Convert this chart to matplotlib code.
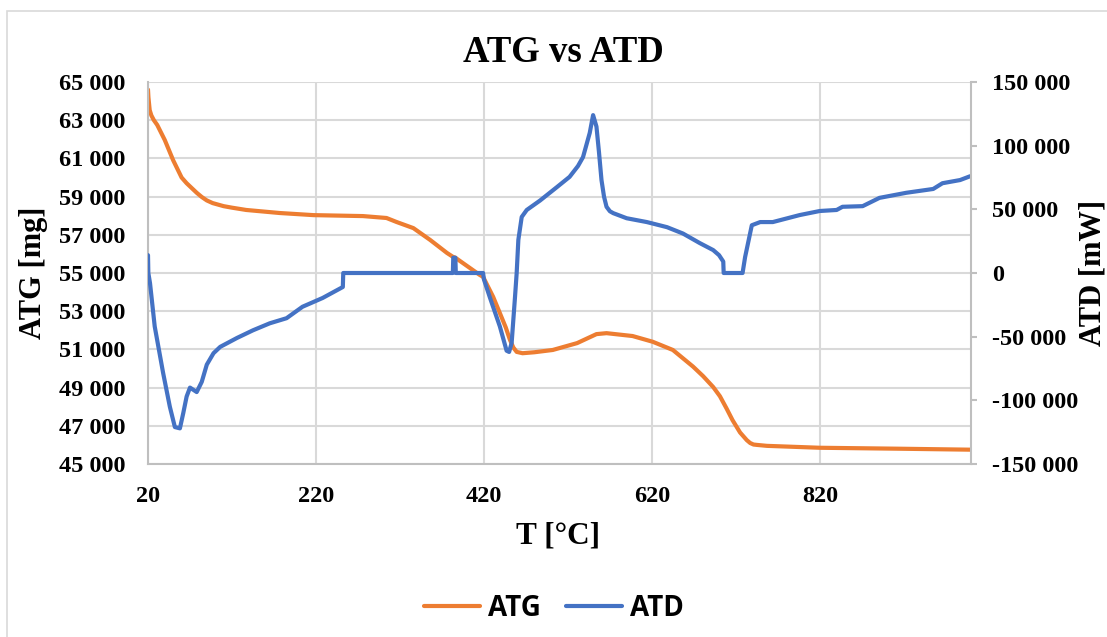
import matplotlib
matplotlib.use("Agg")
import matplotlib.pyplot as plt
from matplotlib.ticker import FuncFormatter, FixedLocator
from matplotlib.patches import Rectangle

# ---------------- data ----------------
atg_t = [20, 20.5, 22, 24, 27, 31, 40, 50, 60, 66, 72, 78, 84, 90, 97, 110, 120,
         137, 177, 217, 276, 304, 316, 336, 356, 376, 383, 386, 395, 415, 419,
         431, 439, 446, 451, 455, 459, 466, 480, 502, 531, 554, 566, 597, 621,
         645, 669, 681, 693, 701, 709, 716, 725, 733, 737, 741, 745, 757, 820,
         915, 999]
atg_v = [64600, 64200, 63530, 63250, 63000, 62750, 61960, 60900, 60000, 59700,
         59450, 59200, 58980, 58800, 58660, 58500, 58420, 58300, 58140, 58030,
         57980, 57880, 57670, 57350, 56730, 56050, 55850, 55800, 55520, 54900,
         54800, 53750, 52900, 52150, 51500, 51100, 50870, 50800, 50850, 50970,
         51330, 51800, 51850, 51700, 51400, 50970, 50100, 49600, 49030, 48550,
         47900, 47300, 46650, 46250, 46100, 46020, 46000, 45950, 45850, 45800,
         45750]

atd_t = [20, 20.4, 22.4, 28, 38, 46, 52, 58, 62, 66, 70, 78, 84, 90, 98, 106, 126,
         145, 165, 185, 204, 228, 252, 252.5, 383, 383.5, 386, 386.5, 419, 420,
         427, 439, 447, 450, 453, 457, 459, 461, 465, 471, 487, 507, 522, 532,
         538, 546, 550, 554, 557, 560, 563, 566, 570, 574, 590, 614, 638, 657,
         677, 693, 700, 705, 705.5, 728, 731, 739, 749, 764, 796, 820, 840, 847,
         871, 891, 923, 955, 966, 987, 999]
atd_v = [14000, 0, -8000, -42000, -78500, -105000, -121000, -122000, -110000,
         -97000, -90000, -93500, -85500, -72000, -63000, -58000, -51000, -45000,
         -39500, -35500, -26500, -19600, -11000, 0, 0, 12000, 12000, 0, 0, -5000,
         -19000, -42000, -61000, -62000, -55000, -19000, 0, 26000, 44000, 49500,
         57000, 67500, 75500, 84000, 91000, 110000, 124000, 115000, 95000, 73000,
         60000, 52000, 48500, 47000, 43000, 40000, 36000, 31000, 23500, 18000,
         14000, 9000, 0, 0, 12500, 37500, 40000, 40000, 45500, 48700, 49500,
         52000, 52500, 59000, 63000, 66000, 70500, 73000, 76000]

x_ticks = [20, 220, 420, 620, 820]
left_ticks = [45000, 47000, 49000, 51000, 53000, 55000, 57000, 59000, 61000, 63000, 65000]
right_ticks = [-150000, -100000, -50000, 0, 50000, 100000, 150000]

ORANGE = "#ED7D31"
BLUE = "#4472C4"
GRID = "#D9D9D9"
SPINE = "#BFBFBF"
SERIF = ["Liberation Serif", "DejaVu Serif"]


def spaced(v, pos=None):
    return f"{int(round(v)):,}".replace(",", " ")


W, H = 1107, 637
fig = plt.figure(figsize=(W / 100, H / 100), dpi=100)
fig.patches.append(Rectangle((7 / W, -0.1), 1.2, 1 - 11 / H + 0.1,
                             transform=fig.transFigure, fill=False,
                             edgecolor="#D9D9D9", lw=1.2))

ax = fig.add_axes([148 / W, 1 - 464 / H, (971 - 148) / W, (464 - 82) / H])
ax2 = ax.twinx()

l1, = ax.plot(atg_t, atg_v, color=ORANGE, lw=3, solid_capstyle="round",
              solid_joinstyle="round", label="ATG")
l2, = ax2.plot(atd_t, atd_v, color=BLUE, lw=3, solid_capstyle="round",
               solid_joinstyle="round", label="ATD")

ax.set_xlim(20, 1000)
ax.set_ylim(45000, 65000)
ax2.set_ylim(-150000, 150000)

ax.xaxis.set_major_locator(FixedLocator(x_ticks))
ax.yaxis.set_major_locator(FixedLocator(left_ticks))
ax2.yaxis.set_major_locator(FixedLocator(right_ticks))
ax.yaxis.set_major_formatter(FuncFormatter(spaced))
ax2.yaxis.set_major_formatter(FuncFormatter(spaced))

ax.grid(True, color=GRID, lw=1.5)
ax.set_axisbelow(True)

for a in (ax, ax2):
    for s in a.spines.values():
        s.set_visible(False)
ax.spines["left"].set_visible(True)
ax.spines["bottom"].set_visible(True)
ax2.spines["right"].set_visible(True)
for s in (ax.spines["left"], ax.spines["bottom"], ax2.spines["right"]):
    s.set_color(SPINE)
    s.set_linewidth(1.5)

ax.tick_params(axis="both", length=0, labelsize=17.5)
ax.tick_params(axis="y", pad=16)
ax.tick_params(axis="x", pad=16)
ax2.tick_params(axis="y", length=4.3, width=1.5, color=SPINE, pad=11, labelsize=17.5)
for lab in ax.get_xticklabels() + ax.get_yticklabels() + ax2.get_yticklabels():
    lab.set_fontfamily(SERIF)
    lab.set_fontweight("bold")

fig.text(563 / W, 1 - 52 / H, "ATG vs ATD", ha="center", va="center",
         family=SERIF, weight="bold", fontsize=26.5)
fig.text(558 / W, 1 - 536 / H, "T [°C]", ha="center", va="center",
         family=SERIF, weight="bold", fontsize=22.5)
fig.text(34 / W, 1 - 273 / H, "ATG [mg]", ha="center", va="center", rotation=90,
         family=SERIF, weight="bold", fontsize=22)
fig.text(1093 / W, 1 - 273 / H, "ATD [mW]", ha="center", va="center", rotation=90,
         family=SERIF, weight="bold", fontsize=22)

leg = fig.legend(handles=[l1, l2], loc="center", bbox_to_anchor=(554 / W, 1 - 608 / H),
                 ncol=2, frameon=False, handlelength=2.0, handletextpad=0.3,
                 columnspacing=0.9,
                 prop={"family": ["Open Sans", "DejaVu Sans"], "weight": "bold", "size": 20})

fig.savefig("out.png", dpi=100)
